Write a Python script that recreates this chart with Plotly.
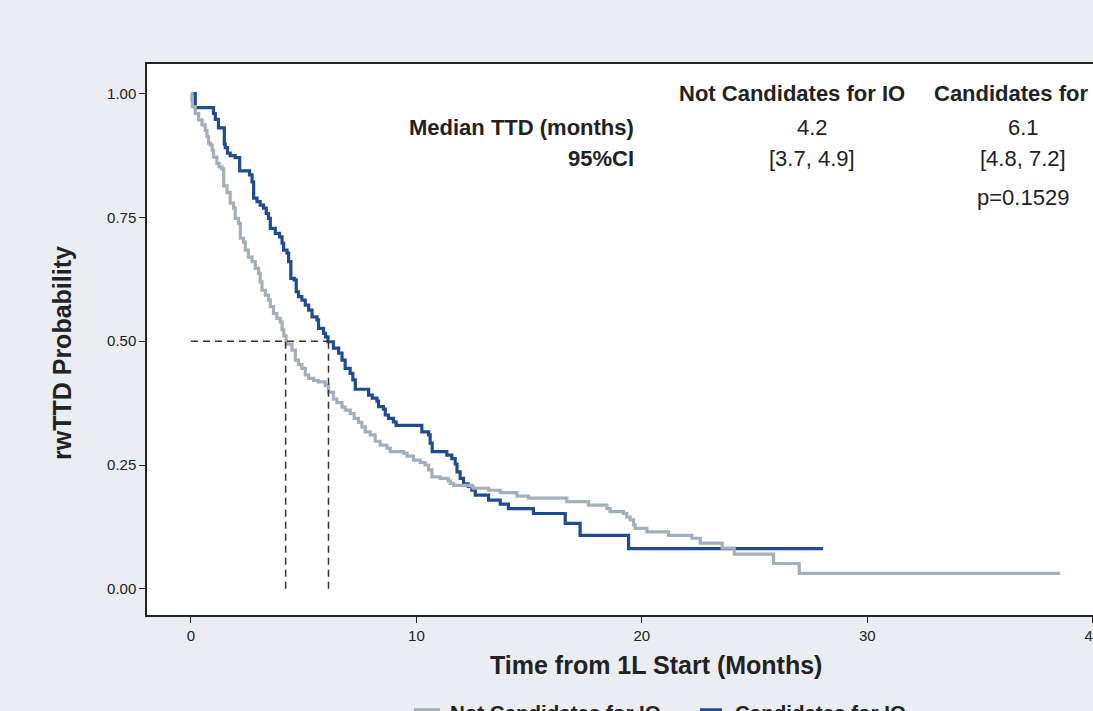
import plotly.graph_objects as go

# ---------------- data ----------------
cand_time = [0.00, 0.19, 1.00, 1.08, 1.22, 1.48, 1.52, 1.62, 1.74, 1.96, 2.16, 2.60, 2.71, 2.78,
             2.93, 3.07, 3.22, 3.34, 3.44, 3.52, 3.74, 3.93, 4.04, 4.11, 4.26, 4.33, 4.43, 4.58,
             4.67, 4.77, 4.92, 5.07, 5.22, 5.37, 5.59, 5.66, 5.88, 5.97, 6.08, 6.32, 6.55, 6.70,
             6.84, 7.06, 7.18, 7.29, 7.88, 8.04, 8.25, 8.32, 8.54, 8.62, 8.76, 8.98, 9.10, 10.24,
             10.54, 10.61, 10.70, 11.35, 11.57, 11.72, 11.80, 11.94, 12.09, 12.30, 12.46, 12.61,
             13.20, 13.72, 14.08, 15.19, 16.60, 17.26, 19.41, 28.03]
cand_surv = [1.000, 0.972, 0.960, 0.948, 0.931, 0.898, 0.891, 0.880, 0.875, 0.871, 0.844, 0.836,
             0.822, 0.789, 0.782, 0.775, 0.769, 0.758, 0.748, 0.728, 0.718, 0.711, 0.698, 0.684,
             0.678, 0.661, 0.627, 0.624, 0.600, 0.590, 0.583, 0.573, 0.563, 0.549, 0.543, 0.526,
             0.516, 0.509, 0.499, 0.486, 0.476, 0.462, 0.445, 0.435, 0.422, 0.403, 0.391, 0.385,
             0.379, 0.368, 0.363, 0.351, 0.344, 0.337, 0.330, 0.317, 0.311, 0.294, 0.277, 0.270,
             0.263, 0.252, 0.236, 0.223, 0.212, 0.207, 0.199, 0.189, 0.179, 0.171, 0.162, 0.152,
             0.132, 0.108, 0.081, 0.081]

notcand_time = [0.00, 0.04, 0.06, 0.19, 0.34, 0.49, 0.63, 0.71, 0.78, 0.86, 0.94, 1.00, 1.15, 1.25,
                1.37, 1.45, 1.60, 1.74, 1.89, 1.96, 2.11, 2.19, 2.33, 2.41, 2.55, 2.71, 2.85, 3.00,
                3.07, 3.15, 3.30, 3.44, 3.52, 3.66, 3.81, 3.96, 4.04, 4.12, 4.22, 4.48, 4.63, 4.77,
                4.92, 5.07, 5.22, 5.44, 5.65, 5.96, 6.10, 6.32, 6.47, 6.70, 6.84, 7.06, 7.24, 7.43,
                7.58, 7.73, 7.95, 8.17, 8.39, 8.69, 8.84, 9.43, 9.58, 9.87, 10.17, 10.39, 10.54,
                10.69, 11.06, 11.41, 11.50, 11.65, 12.46, 12.53, 13.20, 13.72, 14.46, 14.97, 16.67,
                17.63, 18.45, 18.59, 19.18, 19.33, 19.48, 19.63, 19.70, 20.22, 21.18, 22.22, 22.59,
                23.56, 24.10, 25.84, 26.98, 38.55]
notcand_surv = [1.000, 0.987, 0.974, 0.960, 0.947, 0.937, 0.926, 0.913, 0.900, 0.896, 0.886, 0.872,
                0.859, 0.852, 0.848, 0.814, 0.800, 0.779, 0.769, 0.748, 0.738, 0.708, 0.700, 0.684,
                0.670, 0.661, 0.647, 0.637, 0.620, 0.603, 0.593, 0.583, 0.570, 0.556, 0.546, 0.539,
                0.523, 0.511, 0.494, 0.482, 0.462, 0.453, 0.445, 0.432, 0.425, 0.421, 0.418, 0.411,
                0.397, 0.383, 0.376, 0.367, 0.361, 0.354, 0.344, 0.336, 0.327, 0.317, 0.311, 0.298,
                0.290, 0.284, 0.277, 0.274, 0.268, 0.260, 0.255, 0.250, 0.240, 0.226, 0.223, 0.218,
                0.213, 0.209, 0.206, 0.203, 0.199, 0.194, 0.187, 0.183, 0.176, 0.169, 0.162, 0.156,
                0.152, 0.145, 0.139, 0.129, 0.122, 0.115, 0.108, 0.102, 0.092, 0.082, 0.070, 0.051,
                0.031, 0.031]

group_names = ["Not Candidates for IO", "Candidates for IO"]
median_ttd = [4.2, 6.1]
median_text = ["4.2", "6.1"]
ci_text = ["[3.7, 4.9]", "[4.8, 7.2]"]
p_text = "p=0.1529"

x_ticks = [0, 10, 20, 30, 40]
y_ticks = [0.0, 0.25, 0.5, 0.75, 1.0]

# ---------------- style ----------------
GRAY = "#A3B0BC"
BLUE = "#1F4B93"
BG = "#EAEEF2"
INK = "#222222"
FONT = "Liberation Sans, Arial, Helvetica, sans-serif"

W, H = 1093, 711
L, R, T, B = 147, 1093, 64, 615


def pxx(x):
    return (x - L) / (R - L)


def pxy(y):
    return (B - y) / (B - T)


fig = go.Figure()
fig.add_trace(go.Scatter(x=cand_time, y=cand_surv, mode="lines", line_shape="hv",
                         line=dict(color=BLUE, width=3.2), name=group_names[1], showlegend=False))
fig.add_trace(go.Scatter(x=notcand_time, y=notcand_surv, mode="lines", line_shape="hv",
                         line=dict(color=GRAY, width=3.2), name=group_names[0], showlegend=False))

# median reference lines
dash_style = dict(color="#333333", width=1.5, dash="7px,5px")
fig.add_shape(type="line", xref="x", yref="y", x0=0, x1=max(median_ttd), y0=0.5, y1=0.5, line=dash_style)
for m in median_ttd:
    fig.add_shape(type="line", xref="x", yref="y", x0=m, x1=m, y0=0, y1=0.5, line=dash_style)

ann = []
# table header
col_x = [792, 1025]
val_x = [812, 1023]
for name, cx in zip(group_names, col_x):
    ann.append(dict(text="<b>%s</b>" % name, x=pxx(cx), y=pxy(94), xanchor="center", yanchor="middle"))
ann.append(dict(text="<b>Median TTD (months)</b>", x=pxx(636), y=pxy(127), xanchor="right", yanchor="middle"))
ann.append(dict(text="<b>95%CI</b>", x=pxx(636), y=pxy(158), xanchor="right", yanchor="middle"))
for mt, ct, vx in zip(median_text, ci_text, val_x):
    ann.append(dict(text=mt, x=pxx(vx), y=pxy(127), xanchor="center", yanchor="middle"))
    ann.append(dict(text=ct, x=pxx(vx), y=pxy(158), xanchor="center", yanchor="middle"))
ann.append(dict(text=p_text, x=pxx(val_x[1]), y=pxy(197), xanchor="center", yanchor="middle"))

# axis titles
ann.append(dict(text="<b>Time from 1L Start (Months)</b>", x=pxx(656), y=pxy(665),
                xanchor="center", yanchor="middle", font=dict(size=25, color=INK, family=FONT)))
ann.append(dict(text="<b>rwTTD Probability</b>", x=pxx(62), y=pxy(353), textangle=-90,
                xanchor="center", yanchor="middle", font=dict(size=25, color=INK, family=FONT)))

# legend (bottom, partly cut by the page edge)
leg = [(414, 440, 448, GRAY, group_names[0]), (700, 722, 733, BLUE, group_names[1])]
for x0, x1, tx, col, name in leg:
    fig.add_shape(type="line", xref="paper", yref="paper", x0=pxx(x0), x1=pxx(x1),
                  y0=pxy(710), y1=pxy(710), line=dict(color=col, width=3.5))
    ann.append(dict(text="<b>%s</b>" % name, x=pxx(tx), y=pxy(712), xanchor="left", yanchor="middle",
                    font=dict(size=20.5, color=INK, family=FONT)))

for a in ann:
    a.setdefault("font", dict(size=22, color=INK, family=FONT))
    a.update(xref="paper", yref="paper", showarrow=False)

fig.update_layout(
    width=W, height=H, autosize=False,
    margin=dict(l=L, r=W - R, t=T, b=H - B, pad=0),
    paper_bgcolor=BG, plot_bgcolor="white",
    font=dict(family=FONT, color=INK),
    showlegend=False,
    annotations=ann,
)
fig.update_xaxes(range=[-1.95, 40.01], tickvals=x_ticks, ticktext=[str(v) for v in x_ticks],
                 showgrid=False, zeroline=False, showline=True, mirror=True, linecolor=INK, linewidth=1.5,
                 ticks="outside", ticklen=6, tickwidth=1.3, tickcolor=INK, ticklabeloverflow="allow",
                 tickfont=dict(size=15, color=INK, family=FONT), automargin=False)
fig.update_yaxes(range=[-0.053, 1.060], tickvals=y_ticks, ticktext=["%.2f" % v for v in y_ticks],
                 showgrid=False, zeroline=False, showline=True, mirror=False, linecolor=INK, linewidth=1.5,
                 ticks="outside", ticklen=6, tickwidth=1.3, tickcolor=INK,
                 tickfont=dict(size=15, color=INK, family=FONT), automargin=False)

fig.write_html(
    "out.html",
    config={"displayModeBar": False},
    post_script="document.documentElement.style.margin='0';document.body.style.margin='0';"
                "document.body.style.padding='0';document.body.style.overflow='hidden';"
                "document.body.style.background='%s';" % BG,
)
